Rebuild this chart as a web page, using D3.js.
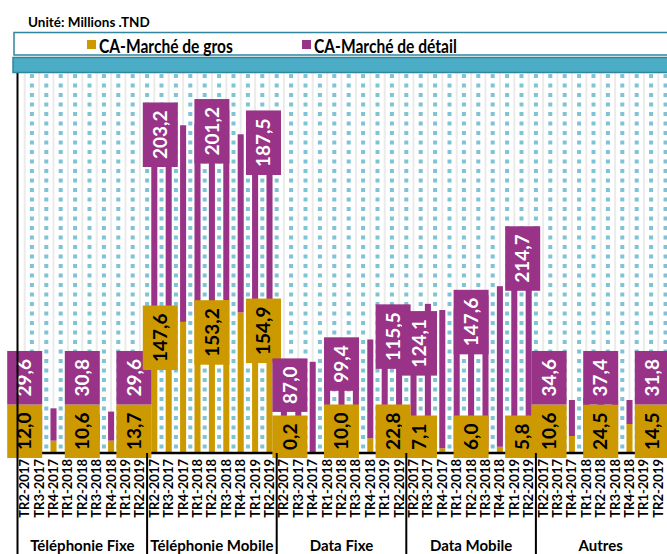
<!DOCTYPE html>
<html>
<head>
<meta charset="utf-8">
<script src="https://cdn.jsdelivr.net/npm/d3@7"></script>
<style>
  body { margin: 0; background: #fff; }
  svg { display: block; font-family: Lato, 'Open Sans', sans-serif; }
</style>
</head>
<body>
<svg id="chart" width="667" height="554"></svg>
<script>
// values in Millions TND
const quarters = ['TR2-2017', 'TR3-2017', 'TR4-2017', 'TR1-2018', 'TR2-2018', 'TR3-2018', 'TR4-2018', 'TR1-2019', 'TR2-2019'];
const segments = ['Téléphonie Fixe', 'Téléphonie Mobile', 'Data Fixe', 'Data Mobile', 'Autres'];
const seriesNames = ['CA-Marché de gros', 'CA-Marché de détail'];

const grosFixe = [12.0, 12.5, 13.0, 11.0, 10.6, 13.0, 13.0, 13.5, 13.7];
const detailFixe = [29.6, 31.0, 34.0, 31.0, 30.8, 28.0, 30.6, 30.0, 29.6];
const grosMobile = [147.6, 150.0, 138.0, 145.0, 153.2, 161.0, 148.0, 151.6, 154.9];
const detailMobile = [203.2, 198.0, 207.0, 202.0, 201.2, 200.0, 187.5, 195.0, 187.5];
const grosDataFixe = [0.2, 0.3, 0.5, 3.0, 10.0, 10.0, 15.5, 18.0, 22.8];
const detailDataFixe = [87.0, 89.0, 95.5, 96.0, 99.4, 103.0, 104.0, 110.0, 115.5];
const grosDataMobile = [7.1, 6.0, 5.0, 5.0, 6.0, 6.0, 6.6, 6.0, 5.8];
const detailDataMobile = [124.1, 151.0, 145.5, 147.0, 147.6, 160.0, 169.0, 190.0, 214.7];
const grosAutres = [10.6, 12.0, 17.9, 22.0, 24.5, 26.0, 30.5, 20.0, 14.5];
const detailAutres = [34.6, 35.0, 37.9, 36.0, 37.4, 30.0, 25.3, 30.0, 31.8];

// only these quarters carry data labels
const labelledQuarters = ['TR2-2017', 'TR2-2018', 'TR2-2019'];

const grosBySegment = [grosFixe, grosMobile, grosDataFixe, grosDataMobile, grosAutres];
const detailBySegment = [detailFixe, detailMobile, detailDataFixe, detailDataMobile, detailAutres];

const GOLD = '#CC9900';
const PURPLE = '#993388';
const TEAL = '#4BACC6';
const TEAL_DARK = '#31859C';

const margin = { left: 17.5, right: 1.5, top: 73, bottom: 101 };
const width = 667;
const height = 554;

const svg = d3.select('#chart');

const data = [];
segments.forEach((seg, s) => {
  quarters.forEach((q, i) => {
    const gros = grosBySegment[s][i];
    const detail = detailBySegment[s][i];
    data.push({ seg, s, q, i, gros, detail, total: gros + detail });
  });
});

const x0 = d3.scaleBand()
  .domain(segments)
  .range([margin.left, width - margin.right]);

const x1 = d3.scaleBand()
  .domain(quarters)
  .range([0, x0.bandwidth()])
  .paddingInner(0.58)
  .paddingOuter(0.29);

const y = d3.scaleLinear()
  .domain([0, 400])
  .range([height - margin.bottom, margin.top]);

const xc = d => x0(d.seg) + x1(d.q) + x1.bandwidth() / 2;
const step = x1.step();

// plot area background grid: grey lines on the quarters, dotted blue between them
const grid = svg.append('g');
const centres = [];
const bounds = [];
segments.forEach(seg => {
  quarters.forEach((q, i) => {
    centres.push(x0(seg) + x1(q) + x1.bandwidth() / 2);
    if (i > 0) bounds.push(x0(seg) + x1(q) + x1.bandwidth() / 2 - step / 2);
  });
  bounds.push(x0(seg) + x0.bandwidth());
});

grid.selectAll('line.c')
  .data(centres)
  .join('line')
  .attr('class', 'c')
  .attr('x1', d => d).attr('x2', d => d)
  .attr('y1', y(400)).attr('y2', y(0))
  .attr('stroke', '#ebebeb')
  .attr('stroke-width', 2);

grid.selectAll('line.b')
  .data(bounds)
  .join('line')
  .attr('class', 'b')
  .attr('x1', d => d).attr('x2', d => d)
  .attr('y1', y(400) + 1).attr('y2', y(0))
  .attr('stroke', '#7EC3D6')
  .attr('stroke-width', 4)
  .attr('stroke-dasharray', '4 5.5');

// stacked bars
const bars = svg.append('g');
bars.selectAll('rect.gros')
  .data(data)
  .join('rect')
  .attr('class', 'gros')
  .attr('x', d => xc(d) - x1.bandwidth() / 2)
  .attr('width', x1.bandwidth())
  .attr('y', d => y(d.gros))
  .attr('height', d => y(0) - y(d.gros))
  .attr('fill', GOLD);

bars.selectAll('rect.detail')
  .data(data)
  .join('rect')
  .attr('class', 'detail')
  .attr('x', d => xc(d) - x1.bandwidth() / 2)
  .attr('width', x1.bandwidth())
  .attr('y', d => y(d.total))
  .attr('height', d => y(d.gros) - y(d.total))
  .attr('fill', PURPLE);

// axis line
svg.append('line')
  .attr('x1', margin.left).attr('x2', width - margin.right)
  .attr('y1', y(0)).attr('y2', y(0))
  .attr('stroke', '#000')
  .attr('stroke-width', 2.5);

// data labels (boxes filled with series colour)
const fmt = v => d3.format('.1f')(v).replace('.', ',');
const labels = svg.append('g')
  .attr('font-weight', 'bold')
  .attr('font-size', 19);

const boxW = 35;
data.filter(d => labelledQuarters.includes(d.q)).forEach(d => {
  // labels at the edges of a segment are nudged inwards so neighbours do not collide
  let cx = xc(d);
  if (d.i === 0 && d.s > 0) cx += 6;
  if (d.i === quarters.length - 1) cx -= 6;

  const g1 = labels.append('g');
  const r1 = g1.append('rect').attr('fill', GOLD);
  const t1 = g1.append('text')
    .attr('fill', '#000')
    .attr('text-anchor', 'middle')
    .attr('dy', '0.35em')
    .text(fmt(d.gros));
  const h1 = t1.node().getComputedTextLength() + 16;
  let c1 = y(d.gros) + 25;
  if (c1 + h1 / 2 > y(0) + 5) c1 = y(0) + 5 - h1 / 2;
  r1.attr('x', cx - boxW / 2).attr('y', c1 - h1 / 2).attr('width', boxW).attr('height', h1);
  t1.attr('transform', `translate(${cx},${c1}) rotate(-90)`);

  const g2 = labels.append('g');
  const r2 = g2.append('rect').attr('fill', PURPLE);
  const t2 = g2.append('text')
    .attr('fill', '#fff')
    .attr('text-anchor', 'middle')
    .attr('dy', '0.35em')
    .text(fmt(d.detail));
  const h2 = t2.node().getComputedTextLength() + 16;
  let c2 = y(d.total) + 15;
  if (c2 + h2 / 2 > c1 - h1 / 2) c2 = c1 - h1 / 2 - h2 / 2;
  r2.attr('x', cx - boxW / 2).attr('y', c2 - h2 / 2).attr('width', boxW).attr('height', h2);
  t2.attr('transform', `translate(${cx},${c2}) rotate(-90)`);
});

// quarter tick labels
const ticks = svg.append('g')
  .attr('font-size', 13)
  .attr('font-weight', 'bold')
  .attr('fill', '#000');
ticks.selectAll('text')
  .data(data)
  .join('text')
  .attr('text-anchor', 'end')
  .attr('dy', '0.35em')
  .attr('transform', d => `translate(${xc(d)},${y(0) + 6}) rotate(-90)`)
  .text(d => d.q);

// segment names and separators
svg.append('g')
  .selectAll('text')
  .data(segments)
  .join('text')
  .attr('x', d => x0(d) + x0.bandwidth() / 2)
  .attr('y', 551)
  .attr('text-anchor', 'middle')
  .attr('font-size', 15)
  .attr('font-weight', 'bold')
  .text(d => d);

svg.append('g')
  .selectAll('line')
  .data(segments.slice(1).map(d => x0(d)))
  .join('line')
  .attr('x1', d => d).attr('x2', d => d)
  .attr('y1', y(0)).attr('y2', height)
  .attr('stroke', '#000')
  .attr('stroke-width', 2);

svg.append('line')
  .attr('x1', margin.left).attr('x2', margin.left)
  .attr('y1', y(400)).attr('y2', height)
  .attr('stroke', '#000')
  .attr('stroke-width', 2);

// header: unit, legend box, teal band
svg.append('text')
  .attr('x', 28).attr('y', 27)
  .attr('font-size', 13.5)
  .attr('font-weight', 'bold')
  .text('Unité: Millions .TND');

svg.append('rect')
  .attr('x', 14).attr('y', 32.5)
  .attr('width', 670).attr('height', 22.5)
  .attr('fill', '#fff')
  .attr('stroke', TEAL_DARK)
  .attr('stroke-width', 1.5);

svg.append('rect')
  .attr('x', 13).attr('y', 57.5)
  .attr('width', 670).attr('height', 15)
  .attr('fill', TEAL)
  .attr('stroke', TEAL_DARK)
  .attr('stroke-width', 1.5);

const legendX = [87, 302];
const legend = svg.append('g')
  .selectAll('g')
  .data(seriesNames)
  .join('g')
  .attr('transform', (d, i) => `translate(${legendX[i]},40)`);
legend.append('rect')
  .attr('width', 9).attr('height', 9)
  .attr('fill', (d, i) => [GOLD, PURPLE][i]);
legend.append('text')
  .attr('transform', 'translate(12,12.5) scale(0.82,1)')
  .attr('font-size', 19)
  .attr('font-weight', 'bold')
  .text(d => d);
</script>
</body>
</html>
